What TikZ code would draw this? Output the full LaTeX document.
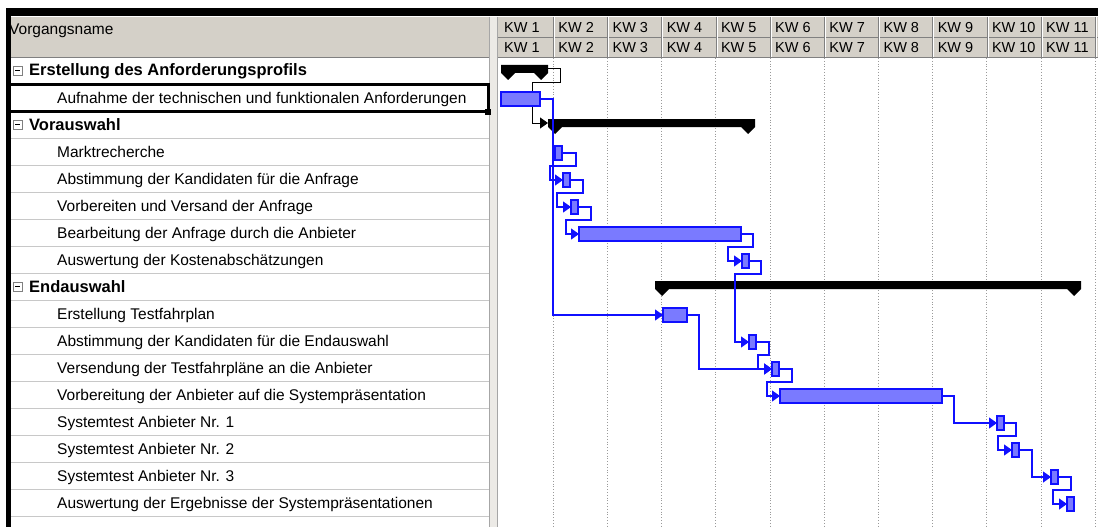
\documentclass[tikz,border=0pt]{standalone}
\usepackage{fontspec}
\setmainfont{Liberation Sans}
\usetikzlibrary{arrows.meta}
\definecolor{hdr}{HTML}{D4D0C8}
\definecolor{hdrline}{HTML}{808080}
\definecolor{gridc}{HTML}{9A9A9A}
\definecolor{rowline}{HTML}{C8C8C8}
\definecolor{taskblue}{HTML}{1010FF}
\definecolor{barfill}{HTML}{7A7AFF}
\begin{document}
\begin{tikzpicture}[x=1pt,y=-1pt,
  bar/.style={draw=taskblue, line width=1.2pt, fill=barfill, minimum height=14pt, inner sep=0pt, outer sep=0pt, anchor=west},
  conn/.style={draw=taskblue, line width=1.3pt, line join=miter, -{Triangle[length=8pt,width=11pt]}},
  sconn/.style={draw=black, line width=1pt, -{Triangle[length=8pt,width=11pt]}},
  tasktxt/.style={font=\fontsize{15.5}{17}\selectfont, anchor=base west, inner sep=0pt},
  sumtxt/.style={font=\fontsize{16.5}{18}\selectfont\bfseries, anchor=base west, inner sep=0pt},
  kwtxt/.style={font=\fontsize{14.5}{16}\selectfont, anchor=base west, inner sep=0pt},
  sumbar/.style={fill=black},
  minusbox/.style={draw=hdrline, fill=white, minimum size=9pt, inner sep=0pt, line width=0.8pt}
]
\useasboundingbox (0,0) rectangle (1098,527);
\fill[white] (0,0) rectangle (1098,527);

% table header
\fill[hdr] (11,17) rectangle (489,57);
\draw[hdrline] (11,57) -- (489,57);
\node[tasktxt] (hname) at (9,35) {Vorgangsname};

% splitter
\fill[hdr!45!white] (489,17) rectangle (498,527);
\draw[hdrline!70] (489.5,17) -- (489.5,527);
\draw[hdrline!70] (497.5,17) -- (497.5,527);

% gantt header
\fill[hdr] (498,17) rectangle (1098,57);
\draw[hdrline] (498,37) -- (1098,37);
\draw[hdrline] (498,57) -- (1098,57);
\foreach \k in {1,...,11}{
  \pgfmathsetmacro{\xs}{499+54.2*(\k-1)}
  \pgfmathsetmacro{\xe}{499+54.2*\k}
  \node[kwtxt] (kwa\k) at (\xs+5,33) {KW \k};
  \node[kwtxt] (kwb\k) at (\xs+5,52.5) {KW \k};
  \draw[hdrline] (\xe,17) -- (\xe,57);
  \draw[white] (\xe+1,17) -- (\xe+1,57);
  \draw[gridc, dotted, line width=0.8pt] (\xe,58) -- (\xe,527);
}

% table row lines
\foreach \i in {1,...,17}{
  \draw[rowline] (11,57+27*\i) -- (489,57+27*\i);
}

% minus boxes
\foreach \i in {0,2,8}{
  \node[minusbox] (mb\i) at (17.5,57+27*\i+13.5) {};
  \draw[black, line width=0.8pt] (15,57+27*\i+13.5) -- (20,57+27*\i+13.5);
}

% task names (baseline = row top + 19)
\node[sumtxt] (n0) at (29,76) {Erstellung des Anforderungsprofils};
\node[tasktxt] (n1) at (57,103) {Aufnahme der technischen und funktionalen Anforderungen};
\node[sumtxt] (n2) at (29,130) {Vorauswahl};
\node[tasktxt] (n3) at (57,157) {Marktrecherche};
\node[tasktxt] (n4) at (57,184) {Abstimmung der Kandidaten für die Anfrage};
\node[tasktxt] (n5) at (57,211) {Vorbereiten und Versand der Anfrage};
\node[tasktxt] (n6) at (57,238) {Bearbeitung der Anfrage durch die Anbieter};
\node[tasktxt] (n7) at (57,265) {Auswertung der Kostenabschätzungen};
\node[sumtxt] (n8) at (29,292) {Endauswahl};
\node[tasktxt] (n9) at (57,319) {Erstellung Testfahrplan};
\node[tasktxt] (n10) at (57,346) {Abstimmung der Kandidaten für die Endauswahl};
\node[tasktxt] (n11) at (57,373) {Versendung der Testfahrpläne an die Anbieter};
\node[tasktxt] (n12) at (57,400) {Vorbereitung der Anbieter auf die Systempräsentation};
\node[tasktxt] (n13) at (57,427) {Systemtest Anbieter Nr. 1};
\node[tasktxt] (n14) at (57,454) {Systemtest Anbieter Nr. 2};
\node[tasktxt] (n15) at (57,481) {Systemtest Anbieter Nr. 3};
\node[tasktxt] (n16) at (57,508) {Auswertung der Ergebnisse der Systempräsentationen};

% selection frame
\draw[black, line width=3pt] (11,84.5) -- (488,84.5) -- (488,111) -- (11,111);
\fill[black] (485,109) rectangle (491,115);

% window frame
\fill[black] (6,8) rectangle (1098,16);
\fill[black] (6,8) rectangle (11,527);

% summary bars
\fill[sumbar] (501,65) -- (548,65) -- (548,73) -- (541,80) -- (534,73) -- (515,73) -- (508,80) -- (501,73) -- cycle;
\fill[sumbar] (548,119) -- (755,119) -- (755,127) -- (748,134) -- (741,127) -- (562,127) -- (555,134) -- (548,127) -- cycle;
\fill[sumbar] (655,281) -- (1081,281) -- (1081,289) -- (1074,296) -- (1067,289) -- (669,289) -- (662,296) -- (655,289) -- cycle;
\coordinate (s0e) at (548,69);
\coordinate (s2w) at (548,123);

% task bars
\node[bar, minimum width=39pt] (t1) at (501,99) {};
\node[bar, minimum width=7pt] (t3) at (555,153) {};
\node[bar, minimum width=7pt] (t4) at (563,180) {};
\node[bar, minimum width=7pt] (t5) at (571,207) {};
\node[bar, minimum width=162pt] (t6) at (579,234) {};
\node[bar, minimum width=7pt] (t7) at (742,261) {};
\node[bar, minimum width=24pt] (t9) at (663,315) {};
\node[bar, minimum width=7pt] (t10) at (749,342) {};
\node[bar, minimum width=7pt] (t11) at (772,369) {};
\node[bar, minimum width=162pt] (t12) at (780,396) {};
\node[bar, minimum width=7pt] (t13) at (997,423) {};
\node[bar, minimum width=7pt] (t14) at (1012,450) {};
\node[bar, minimum width=7pt] (t15) at (1051,477) {};
\node[bar, minimum width=7pt] (t16) at (1067,504) {};

% connectors
\draw[sconn] (s0e) -| (560,83) -| (532,123) -- (s2w);
\draw[conn] (t1.east) -| (553,315) -- (t9.west);
\draw[conn] (t3.east) -| (576,166) -| (550,180) -- (t4.west);
\draw[conn] (t4.east) -| (583,193) -| (557,207) -- (t5.west);
\draw[conn] (t5.east) -| (591,220) -| (566,234) -- (t6.west);
\draw[conn] (t6.east) -| (753,247) -| (728,261) -- (t7.west);
\draw[conn] (t7.east) -| (761,274) -| (735,342) -- (t10.west);
\draw[conn] (t9.east) -| (699,369) -- (t11.west);
\draw[conn] (t10.east) -| (769,355) -| (758,369) -- (t11.west);
\draw[conn] (t11.east) -| (792,382) -| (767,396) -- (t12.west);
\draw[conn] (t12.east) -| (954,423) -- (t13.west);
\draw[conn] (t13.east) -| (1016,436) -| (998,450) -- (t14.west);
\draw[conn] (t14.east) -| (1032,477) -- (t15.west);
\draw[conn] (t15.east) -| (1071,490) -| (1053,504) -- (t16.west);

% redraw bars on top
\foreach \t in {t1,t3,t4,t5,t6,t7,t9,t10,t11,t12,t13,t14,t15,t16}{
  \draw[taskblue, line width=1.2pt, fill=barfill] (\t.north west) rectangle (\t.south east);
}
\end{tikzpicture}
\end{document}
